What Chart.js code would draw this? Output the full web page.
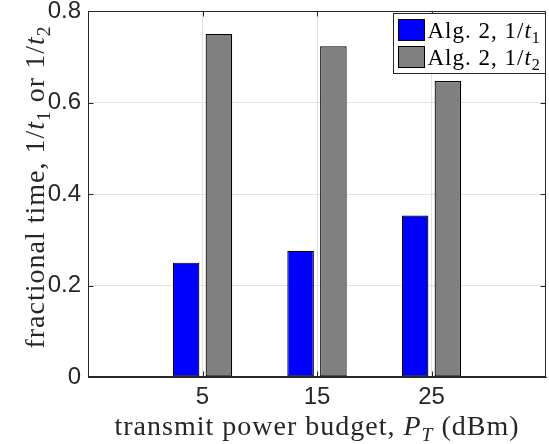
<!DOCTYPE html>
<html>
<head>
<meta charset="utf-8">
<script src="https://cdn.jsdelivr.net/npm/chart.js@4/dist/chart.umd.min.js"></script>
<style>
  html, body { margin: 0; padding: 0; background: #ffffff; }
  #wrap { width: 549px; height: 444px; }
</style>
</head>
<body>
<div id="wrap"><canvas id="c" width="549" height="444"></canvas></div>
<script>
// Transmit power budget (dBm) and the fractional times of the two phases
const powerBudget = [5, 15, 25];
const fracT1 = [0.25, 0.276, 0.353];
const fracT2 = [0.75, 0.723, 0.647];
const yTickValues = [0, 0.2, 0.4, 0.6, 0.8];
const xTickValues = [5, 15, 25];

// Series names (plain) and their typeset pieces
const seriesNames = ['Alg. 2, 1/t\u2081', 'Alg. 2, 1/t\u2082'];
const seriesRich = [
  [{ text: 'Alg. 2, 1/' }, { text: 't', italic: true }, { text: '1', sub: true }],
  [{ text: 'Alg. 2, 1/' }, { text: 't', italic: true }, { text: '2', sub: true }]
];
const seriesColors = ['#0000ff', '#808080'];

// Axis titles
const xTitleRich = [
  { text: 'transmit power budget, ' }, { text: 'P', italic: true },
  { text: 'T', italic: true, sub: true }, { text: ' (dBm)' }
];
const yTitleRich = [
  { text: 'fractional time, 1/' }, { text: 't', italic: true }, { text: '1', sub: true },
  { text: ' or 1/' }, { text: 't', italic: true }, { text: '2', sub: true }
];

const AXIS_COLOR = '#262626';
const SERIF = '"Liberation Serif", "Times New Roman", serif';

function richFont(seg, size) {
  const s = seg.sub ? size * 0.7 : size;
  return (seg.italic ? 'italic ' : '') + s.toFixed(1) + 'px ' + SERIF;
}

function measureRich(ctx, segs, size, spacing) {
  let w = 0;
  for (const seg of segs) {
    ctx.font = richFont(seg, size);
    ctx.letterSpacing = spacing + 'px';
    w += ctx.measureText(seg.text).width;
  }
  return w;
}

// Draws a run of text pieces starting at x on baseline y
function drawRich(ctx, segs, x, y, size, spacing) {
  ctx.textAlign = 'left';
  ctx.textBaseline = 'alphabetic';
  let cx = x;
  for (const seg of segs) {
    ctx.font = richFont(seg, size);
    ctx.letterSpacing = spacing + 'px';
    const dy = seg.sub ? size * 0.2 : 0;
    ctx.fillText(seg.text, cx, y + dy);
    cx += ctx.measureText(seg.text).width;
  }
}

// Box outline, inward tick marks, axis titles and the legend
const decorations = {
  id: 'decorations',
  beforeDatasetsDraw(chart) {
    const { ctx, chartArea: a, scales } = chart;
    ctx.save();
    ctx.strokeStyle = AXIS_COLOR;
    ctx.lineWidth = 1;
    const L = Math.round(a.left) + 0.5, R = Math.round(a.right) - 0.5;
    const T = Math.round(a.top) + 0.5, B = Math.round(a.bottom) - 0.5;
    const tick = 5;
    ctx.beginPath();
    for (const v of yTickValues) {
      const py = Math.round(scales.y.getPixelForValue(v)) + 0.5;
      ctx.moveTo(L, py); ctx.lineTo(L + tick, py);
      ctx.moveTo(R, py); ctx.lineTo(R - tick, py);
    }
    for (const v of xTickValues) {
      const px = Math.round(scales.x.getPixelForValue(v)) + 0.5;
      ctx.moveTo(px, B); ctx.lineTo(px, B - tick);
      ctx.moveTo(px, T); ctx.lineTo(px, T + tick);
    }
    ctx.stroke();
    ctx.restore();
  },
  afterDatasetsDraw(chart) {
    const { ctx, chartArea: a } = chart;
    ctx.save();
    ctx.strokeStyle = AXIS_COLOR;
    ctx.lineWidth = 1;
    ctx.strokeRect(Math.round(a.left) + 0.5, Math.round(a.top) + 0.5,
                   Math.round(a.right - a.left) - 1, Math.round(a.bottom - a.top) - 1);

    // axis titles
    ctx.fillStyle = AXIS_COLOR;
    const tSize = 28, tSp = 1;
    const xw = measureRich(ctx, xTitleRich, tSize, tSp);
    drawRich(ctx, xTitleRich, (a.left + a.right) / 2 - xw / 2, 435, tSize, tSp);

    const yw = measureRich(ctx, yTitleRich, tSize, tSp);
    ctx.save();
    ctx.translate(44, 187);
    ctx.rotate(-Math.PI / 2);
    drawRich(ctx, yTitleRich, -yw / 2, 0, tSize, tSp);
    ctx.restore();

    // legend
    const lx = 393.5, ly = 13.5, lw = 152, lh = 60;
    ctx.fillStyle = '#ffffff';
    ctx.fillRect(lx, ly, lw, lh);
    ctx.strokeStyle = AXIS_COLOR;
    ctx.strokeRect(lx, ly, lw, lh);
    chart.data.datasets.forEach((ds, i) => {
      const rowTop = 19.5 + i * 27;
      ctx.fillStyle = ds.backgroundColor;
      ctx.fillRect(398.5, rowTop, 26, 21);
      ctx.strokeStyle = '#000000';
      ctx.strokeRect(398.5, rowTop, 26, 21);
      ctx.fillStyle = '#000000';
      drawRich(ctx, seriesRich[i], 427.5, rowTop + 18.5, 23, 1);
    });
    ctx.restore();
  }
};

Chart.defaults.font.family = '"Liberation Sans", Arial, sans-serif';
Chart.defaults.color = AXIS_COLOR;

new Chart(document.getElementById('c'), {
  type: 'bar',
  data: {
    datasets: [0, 1].map(k => ({
      label: seriesNames[k],
      data: powerBudget.map((x, i) => ({ x, y: (k === 0 ? fracT1 : fracT2)[i] })),
      backgroundColor: seriesColors[k],
      borderColor: '#000000',
      borderWidth: 1.2,
      borderSkipped: false,
      inflateAmount: 0,
      categoryPercentage: 0.573,
      barPercentage: 0.81
    }))
  },
  options: {
    responsive: false,
    animation: false,
    layout: { padding: { top: 11, right: 3, left: 0, bottom: 0 } },
    plugins: { legend: { display: false }, tooltip: { enabled: false } },
    scales: {
      x: {
        type: 'linear',
        min: -5, max: 35,
        offset: false,
        afterBuildTicks: s => { s.ticks = xTickValues.map(v => ({ value: v })); },
        afterFit: s => { s.height = 67; s.paddingLeft = 0; s.paddingRight = 0; },
        ticks: { font: { size: 24 }, padding: 6, maxRotation: 0, autoSkip: false, color: AXIS_COLOR },
        grid: { color: '#e2e2e2', drawTicks: false, offset: false },
        border: { display: true, color: AXIS_COLOR, width: 1 }
      },
      y: {
        min: 0, max: 0.8,
        afterBuildTicks: s => { s.ticks = yTickValues.map(v => ({ value: v })); },
        afterFit: s => { s.width = 88; s.paddingTop = 0; s.paddingBottom = 0; },
        ticks: { font: { size: 24 }, padding: 7, color: AXIS_COLOR },
        grid: { color: '#e2e2e2', drawTicks: false },
        border: { display: true, color: AXIS_COLOR, width: 1 }
      }
    }
  },
  plugins: [decorations]
});
</script>
</body>
</html>
